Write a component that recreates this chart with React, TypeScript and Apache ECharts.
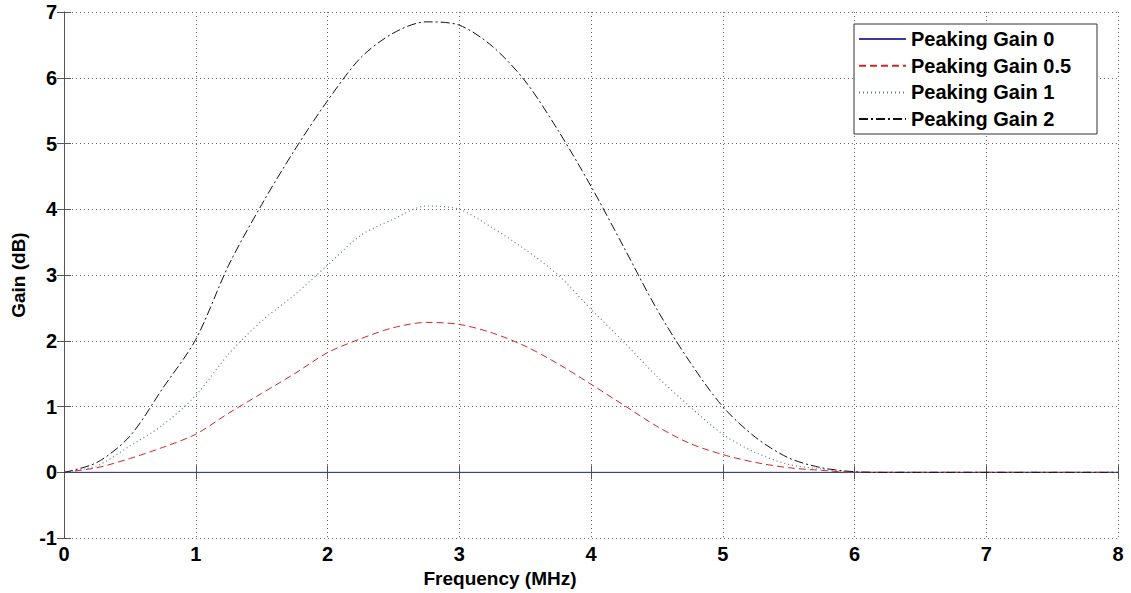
import React, { useEffect, useRef } from "react";
import * as echarts from "echarts";

const frequencies = [0, 0.25, 0.5, 0.75, 1, 1.25, 1.5, 1.75, 2, 2.25, 2.5, 2.75, 3, 3.25, 3.5, 3.75, 4, 4.25, 4.5, 4.75, 5, 5.25, 5.5, 5.75, 6, 6.25, 6.5, 6.75, 7, 7.25, 7.5, 7.75, 8];
const gain0 = [0, 0, 0, 0, 0, 0, 0, 0, 0, 0, 0, 0, 0, 0, 0, 0, 0, 0, 0, 0, 0, 0, 0, 0, 0, 0, 0, 0, 0, 0, 0, 0, 0];
const gain05 = [0, 0.07, 0.21, 0.38, 0.58, 0.9, 1.2, 1.5, 1.82, 2.03, 2.2, 2.28, 2.25, 2.12, 1.92, 1.65, 1.34, 1.02, 0.7, 0.44, 0.27, 0.15, 0.07, 0.03, 0, 0, 0, 0, 0, 0, 0, 0, 0];
const gain1 = [0, 0.1, 0.4, 0.72, 1.17, 1.8, 2.3, 2.7, 3.15, 3.6, 3.85, 4.05, 4.0, 3.72, 3.39, 3.0, 2.48, 1.98, 1.46, 1.0, 0.58, 0.3, 0.12, 0.05, 0, 0, 0, 0, 0, 0, 0, 0, 0];
const gain2 = [0, 0.15, 0.55, 1.28, 2.02, 3.15, 4.07, 4.9, 5.65, 6.3, 6.68, 6.85, 6.8, 6.48, 5.95, 5.2, 4.35, 3.42, 2.48, 1.68, 1.0, 0.53, 0.22, 0.07, 0.01, 0, 0, 0, 0, 0, 0, 0, 0];

const seriesNames = ["Peaking Gain 0", "Peaking Gain 0.5", "Peaking Gain 1", "Peaking Gain 2"];
const xTitle = "Frequency (MHz)";
const yTitle = "Gain (dB)";

const FONT = "'Liberation Sans', Arial, sans-serif";

export default function App() {
  const ref = useRef<HTMLDivElement>(null);
  useEffect(() => {
    if (!ref.current) return;
    const chart = echarts.init(ref.current, null, { renderer: "svg" });
    const toPairs = (ys: number[]) => frequencies.map((x, i) => [x, ys[i]]);
    const axisColor = "#555";
    const gridLine = { show: true, lineStyle: { color: "#666", type: [1, 3] as any, width: 1 } };
    const labelStyle = { color: "#000", fontFamily: FONT, fontWeight: "bold" as const, fontSize: 20 };
    const option: any = {
      animation: false,
      backgroundColor: "#fff",
      grid: { left: 64, right: 13, top: 12, bottom: 54, containLabel: false },
      xAxis: [
        {
          type: "value", min: 0, max: 8, interval: 1, position: "bottom",
          name: xTitle, nameLocation: "middle", nameGap: 26,
          nameTextStyle: { ...labelStyle, fontSize: 19, padding: [0, 182, 0, 0] },
          axisLine: { show: true, lineStyle: { color: axisColor, width: 1 } },
          axisTick: { show: true, inside: true, length: 7, lineStyle: { color: axisColor } },
          axisLabel: { ...labelStyle, margin: 6 },
          splitLine: gridLine,
        },
        {
          type: "value", min: 0, max: 8, interval: 1, position: "top",
          axisLine: { show: true, lineStyle: { color: axisColor, width: 1 } },
          axisTick: { show: true, inside: true, length: 7, lineStyle: { color: axisColor } },
          axisLabel: { show: false },
          splitLine: { show: false },
        },
      ],
      yAxis: [
        {
          type: "value", min: -1, max: 7, interval: 1, position: "left",
          name: yTitle, nameLocation: "middle", nameGap: 31,
          nameTextStyle: { ...labelStyle, fontSize: 19 },
          axisLine: { show: true, lineStyle: { color: axisColor, width: 1 } },
          axisTick: { show: true, inside: true, length: 7, lineStyle: { color: axisColor } },
          axisLabel: { ...labelStyle, margin: 7 },
          splitLine: gridLine,
        },
        {
          type: "value", min: -1, max: 7, interval: 1, position: "right",
          axisLine: { show: true, lineStyle: { color: axisColor, width: 1 } },
          axisTick: { show: true, inside: true, length: 7, lineStyle: { color: axisColor } },
          axisLabel: { show: false },
          splitLine: { show: false },
        },
      ],
      legend: {
        orient: "vertical",
        left: 858,
        top: 29,
        padding: 0,
        itemWidth: 47,
        itemHeight: 14,
        itemGap: 6.7,
        itemStyle: { opacity: 0 },
        textStyle: { ...labelStyle, fontSize: 20, lineHeight: 20 },
        data: seriesNames,
      },
      graphic: [
        {
          type: "rect",
          z: 3,
          shape: { x: 854, y: 24, width: 243, height: 110 },
          style: { fill: "#fff", stroke: "#333", lineWidth: 1 },
        },
      ],
      series: [
        {
          name: seriesNames[0], type: "line", data: toPairs(gain0), symbol: "none",
          lineStyle: { color: "#3a3a9a", width: 1, type: "solid" }, itemStyle: { color: "#3a3a9a" },
        },
        {
          name: seriesNames[1], type: "line", data: toPairs(gain05), symbol: "none", smooth: 0.3,
          lineStyle: { color: "#d02828", width: 1, type: [7, 4] }, itemStyle: { color: "#d02828" },
        },
        {
          name: seriesNames[2], type: "line", data: toPairs(gain1), symbol: "none", smooth: 0.3,
          lineStyle: { color: "#5f8080", width: 1.2, type: [1, 3] }, itemStyle: { color: "#5f8080" },
        },
        {
          name: seriesNames[3], type: "line", data: toPairs(gain2), symbol: "none", smooth: 0.3,
          lineStyle: { color: "#111", width: 1, type: [9, 3, 2, 3] }, itemStyle: { color: "#111" },
        },
      ],
    };
    chart.setOption(option);
    return () => chart.dispose();
  }, []);
  return (
    <div
      ref={ref}
      style={{ position: "absolute", left: 0, top: 0, width: 1131, height: 593, background: "#fff" }}
    />
  );
}
